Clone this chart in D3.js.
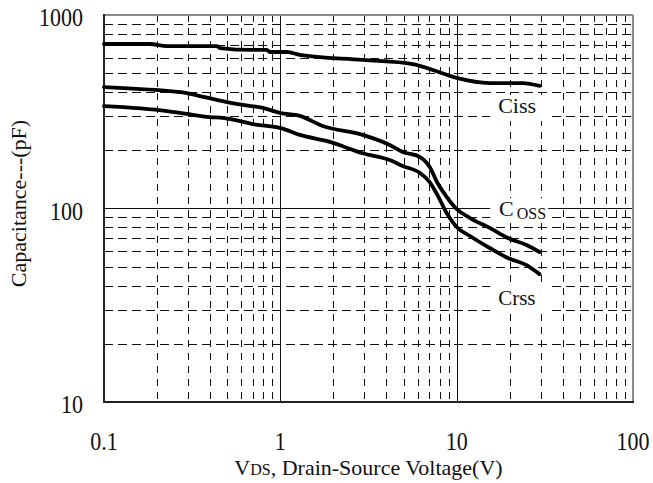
<!DOCTYPE html>
<html>
<head>
<meta charset="utf-8">
<script src="https://cdn.jsdelivr.net/npm/d3@7"></script>
<style>
  html, body { margin: 0; padding: 0; background: #fff; }
  svg { display: block; }
  text { font-family: "Liberation Serif", "DejaVu Serif", serif; fill: #111; }
</style>
</head>
<body>
<script>
// ---- data ----
const xTicks = [0.1, 1, 10, 100];
const xTickLabels = ["0.1", "1", "10", "100"];
const yTicks = [10, 100, 1000];
const yTickLabels = ["10", "100", "1000"];

const cissV = [0.1, 0.182, 0.2275, 0.437, 0.454, 0.698, 0.838, 0.872, 1.089, 1.29, 2.93, 5.63, 7.31, 10.0, 15.4, 23.7, 29.5];
const cissC = [708, 708, 691, 690, 675, 660, 660, 644, 644, 622, 586, 558, 520, 473, 445, 445, 430];

const cossV = [0.1, 0.2275, 0.295, 0.350, 0.498, 0.613, 0.796, 0.994, 1.29, 1.74, 2.93, 4.17, 4.94, 6.17, 7.03, 7.80, 8.77, 10.0, 11.9, 15.4, 19.5, 24.9, 29.5];
const cossC = [424, 405, 395, 381, 355, 343, 331, 312, 301, 267, 240, 213, 196, 185, 164, 135, 115, 99.4, 89.3, 79.4, 70.4, 64.8, 59.6];

const crssV = [0.1, 0.2275, 0.295, 0.399, 0.472, 0.590, 0.698, 0.838, 0.994, 1.29, 1.91, 2.93, 4.17, 4.94, 6.17, 7.03, 7.80, 8.77, 10.0, 11.9, 15.4, 19.5, 24.9, 29.5];
const crssC = [338, 319, 308, 297, 294, 283, 273, 267, 261, 240, 221, 193, 178, 166, 153, 137, 117, 94.8, 80.3, 72.1, 62.5, 55.5, 51.0, 45.8];

const seriesNames = ["Ciss", "Coss", "Crss"];

// ---- layout ----
const W = 653, H = 483;
const m = { left: 104, top: 15, right: 20, bottom: 81 };
const pw = W - m.left - m.right, ph = H - m.top - m.bottom;

const svg = d3.select("body").append("svg").attr("width", W).attr("height", H);
const g = svg.append("g").attr("transform", `translate(${m.left},${m.top})`);

const x = d3.scaleLog().domain([0.1, 100]).range([0, pw]);
const y = d3.scaleLog().domain([10, 1000]).range([ph, 0]);

// minor / major grid values
const xMinor = [], yMinor = [];
[0.1, 1, 10].forEach(d => { for (let k = 2; k <= 9; k++) xMinor.push(d * k); });
[10, 100].forEach(d => { for (let k = 2; k <= 9; k++) yMinor.push(d * k); });
const xMajor = [1, 10], yMajor = [100];

const grid = g.append("g");
grid.selectAll(".hm").data(yMinor).join("line")
  .attr("x1", 0).attr("x2", pw)
  .attr("y1", d => Math.round(y(d)) + 0.5).attr("y2", d => Math.round(y(d)) + 0.5)
  .attr("stroke", "#111").attr("stroke-width", 1).attr("stroke-dasharray", "9,5");
grid.selectAll(".vm").data(xMinor).join("line")
  .attr("y1", 0).attr("y2", ph)
  .attr("x1", d => Math.round(x(d)) + 0.5).attr("x2", d => Math.round(x(d)) + 0.5)
  .attr("stroke", "#111").attr("stroke-width", 1).attr("stroke-dasharray", "7,6");
grid.selectAll(".hM").data(yMajor).join("line")
  .attr("x1", 0).attr("x2", pw)
  .attr("y1", d => Math.round(y(d)) + 0.5).attr("y2", d => Math.round(y(d)) + 0.5)
  .attr("stroke", "#111").attr("stroke-width", 1);
grid.selectAll(".vM").data(xMajor).join("line")
  .attr("y1", 0).attr("y2", ph)
  .attr("x1", d => Math.round(x(d)) + 0.5).attr("x2", d => Math.round(x(d)) + 0.5)
  .attr("stroke", "#111").attr("stroke-width", 1);

// white boxes behind the series labels (in data coordinates)
const boxV0 = [15.5, 15.5, 15.5], boxV1 = [33, 33, 33];
const boxC0 = [386, 113, 41.2], boxC1 = [283, 85.2, 29.1];
g.selectAll(".lbox").data(seriesNames).join("rect")
  .attr("x", (d, i) => x(boxV0[i])).attr("width", (d, i) => x(boxV1[i]) - x(boxV0[i]))
  .attr("y", (d, i) => y(boxC0[i])).attr("height", (d, i) => y(boxC1[i]) - y(boxC0[i]))
  .attr("fill", "#fff");

// frame
g.append("line").attr("x1", 0).attr("x2", pw).attr("y1", 0).attr("y2", 0).attr("stroke", "#8a8a8a").attr("stroke-width", 2);
g.append("line").attr("x1", pw).attr("x2", pw).attr("y1", 0).attr("y2", ph).attr("stroke", "#8a8a8a").attr("stroke-width", 2);
g.append("line").attr("x1", 0).attr("x2", 0).attr("y1", -1).attr("y2", ph + 1).attr("stroke", "#222").attr("stroke-width", 2);
g.append("line").attr("x1", -1).attr("x2", pw + 1).attr("y1", ph).attr("y2", ph).attr("stroke", "#222").attr("stroke-width", 2);

// curves
const line = d3.line().x(d => x(d[0])).y(d => y(d[1])).curve(d3.curveMonotoneX);
const curves = [d3.zip(cissV, cissC), d3.zip(cossV, cossC), d3.zip(crssV, crssC)];
g.selectAll(".curve").data(curves).join("path")
  .attr("d", line).attr("fill", "none").attr("stroke", "#000")
  .attr("stroke-width", 3.8).attr("stroke-linejoin", "round").attr("stroke-linecap", "round");

// series labels
const labV = [17.2, 17.4, 17.2];
const labC = [311.6, 91.5, 31.7];
g.append("text").attr("x", x(labV[0])).attr("y", y(labC[0])).attr("font-size", 22).text("Ciss");
const coss = g.append("text").attr("x", x(labV[1])).attr("y", y(labC[1])).attr("font-size", 22);
coss.append("tspan").text("C");
coss.append("tspan").attr("dx", 3).attr("dy", 3).attr("font-size", 16).text("OSS");
g.append("text").attr("x", x(labV[2])).attr("y", y(labC[2])).attr("font-size", 21).text("Crss");

// tick labels (slightly tall digits like the reference font)
svg.append("g").selectAll("text").data(xTicks).join("text")
  .attr("transform", d => `translate(${m.left + x(d)},${m.top + ph + 48}) scale(1,1.15)`)
  .attr("text-anchor", "middle").attr("font-size", 22)
  .text((d, i) => xTickLabels[i]);
svg.append("g").selectAll("text").data(yTicks).join("text")
  .attr("transform", d => `translate(83,${m.top + y(d) + 11}) scale(1,1.15)`)
  .attr("text-anchor", "end").attr("font-size", 22)
  .text((d, i) => yTickLabels[i]);

// axis titles
const xt = svg.append("text").attr("x", m.left + pw / 2).attr("y", H - 8)
  .attr("text-anchor", "middle").attr("font-size", 22);
xt.append("tspan").text("V");
xt.append("tspan").attr("font-size", 16).text("DS");
xt.append("tspan").text(", Drain-Source Voltage(V)");

svg.append("text").attr("transform", `translate(26,${m.top + ph / 2 - 5}) rotate(-90)`)
  .attr("text-anchor", "middle").attr("font-size", 22)
  .text("Capacitance---(pF)");
</script>
</body>
</html>
